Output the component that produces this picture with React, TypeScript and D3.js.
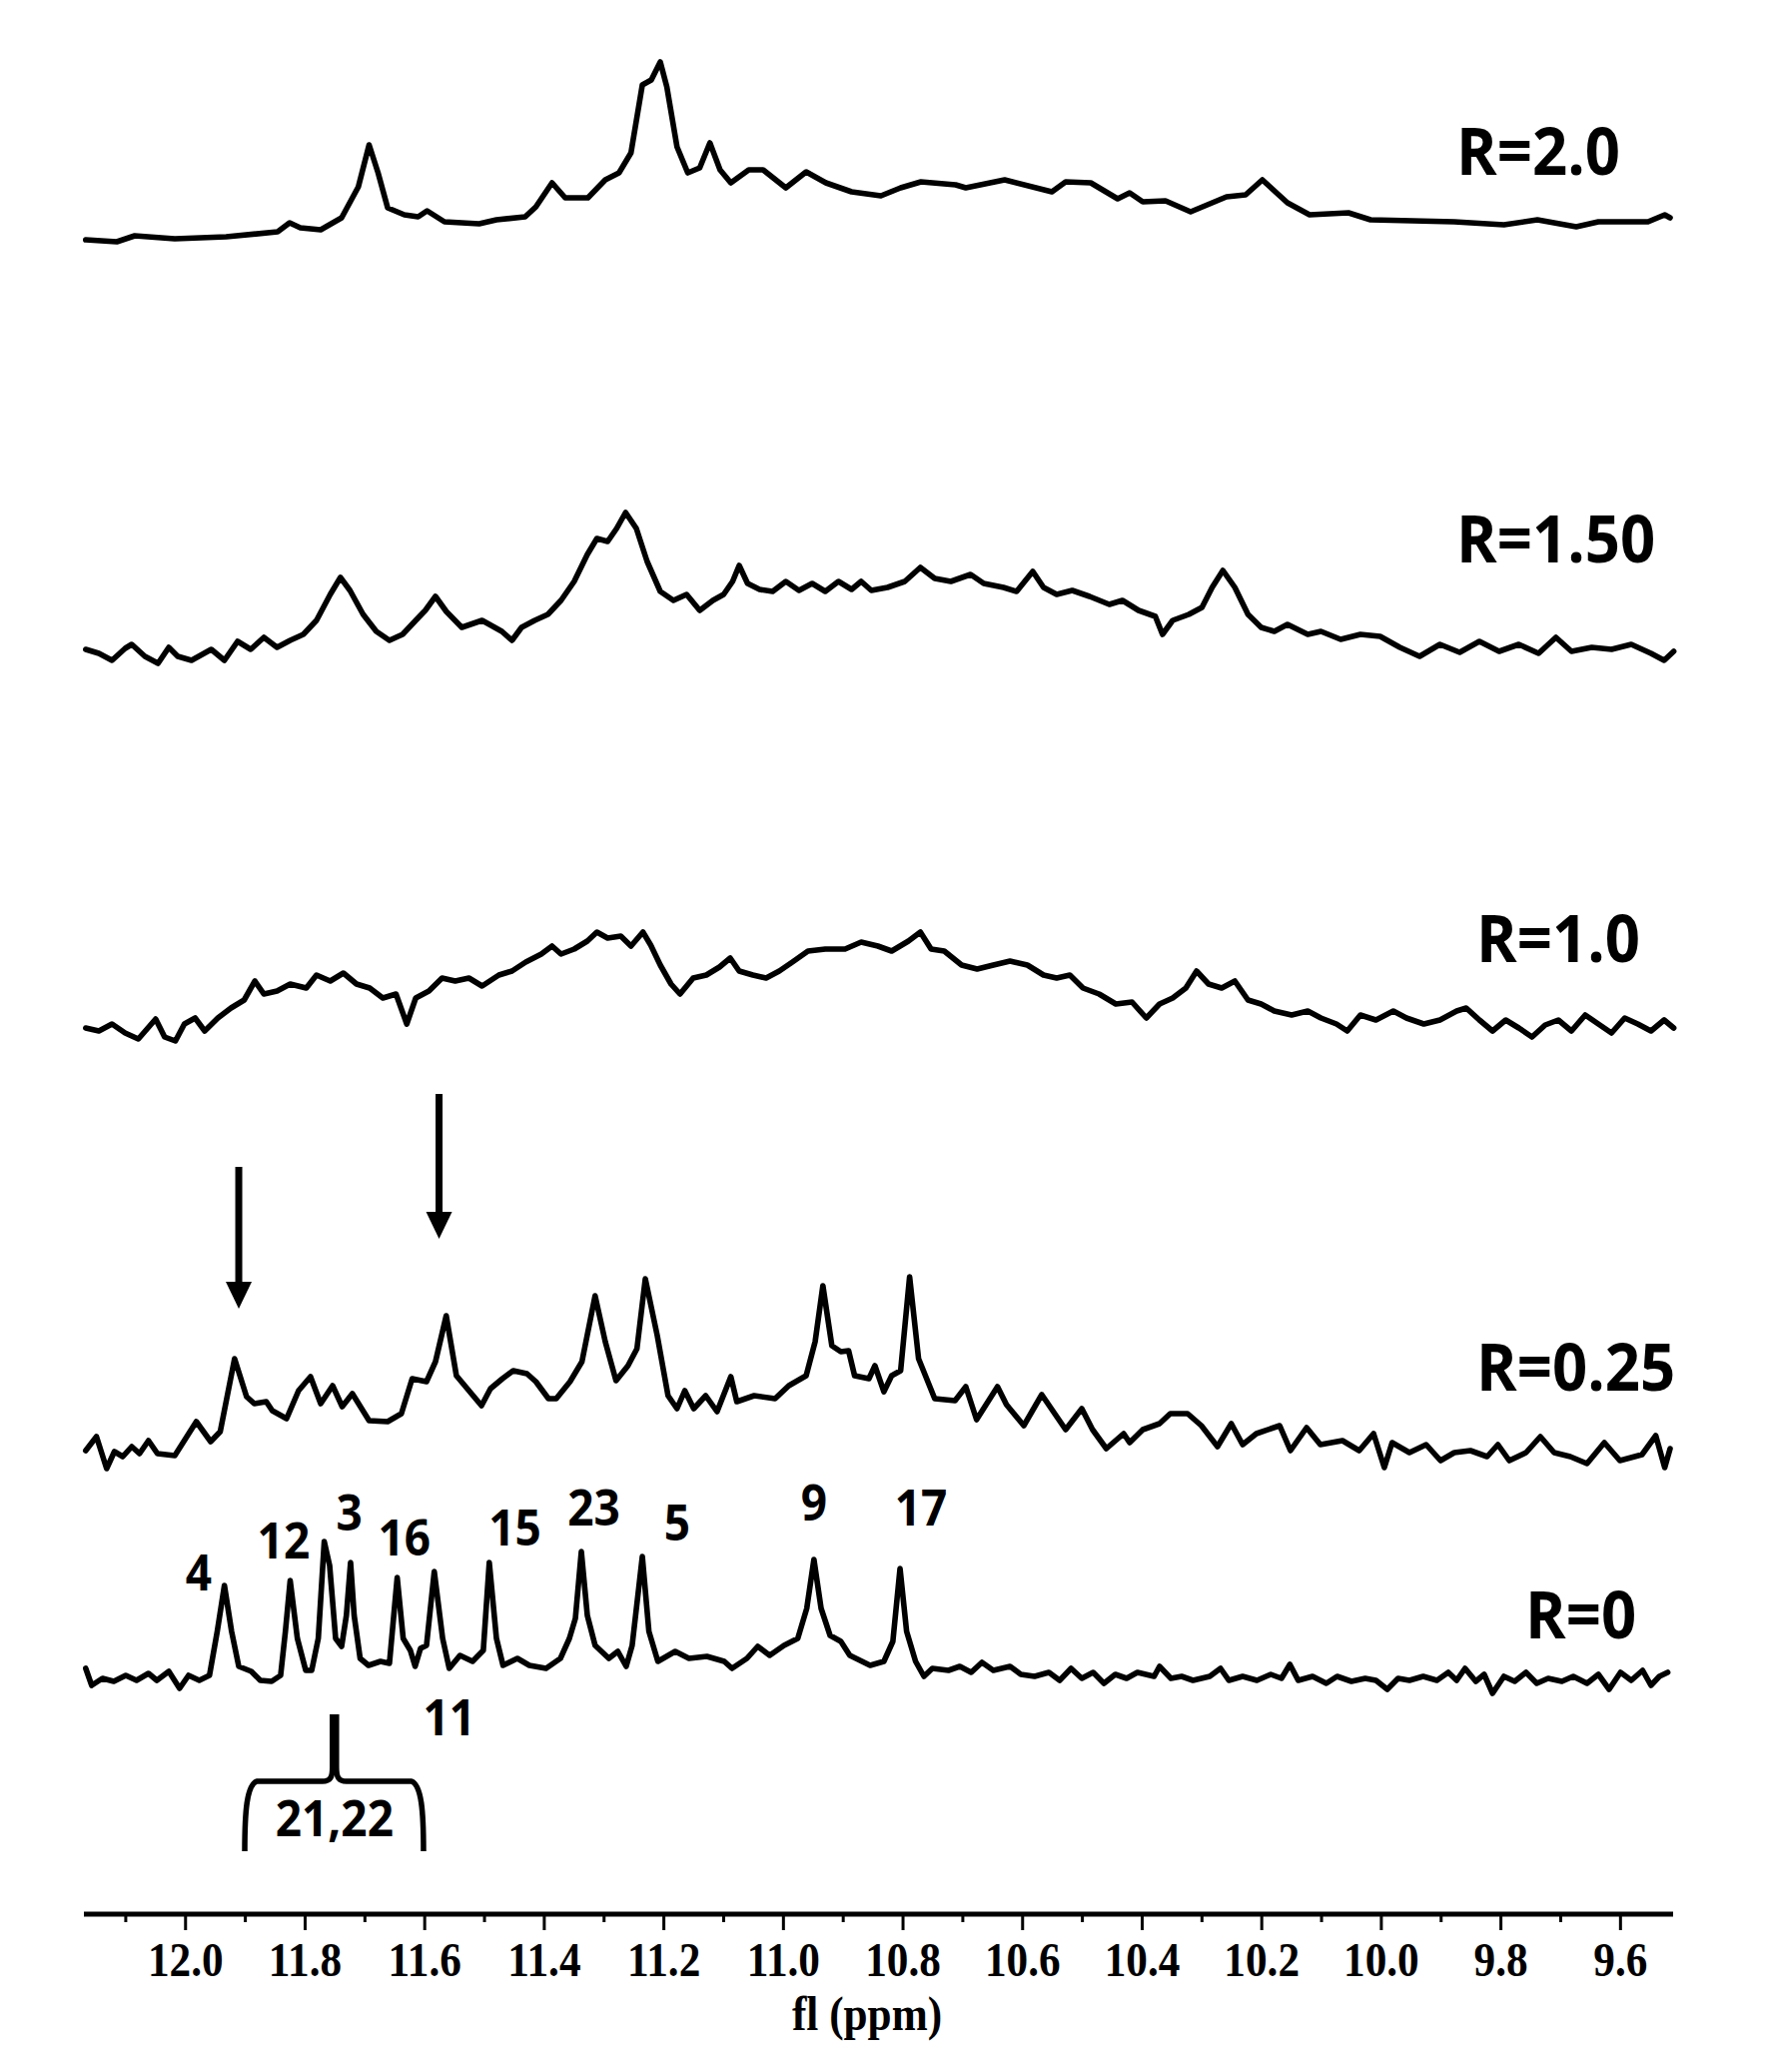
import React from 'react';
import * as d3 from 'd3';

type Pt = [number, number];

// ---------- axis ----------
const ppmDomain: [number, number] = [12.17, 9.512];
const majorTicks = [12.0, 11.8, 11.6, 11.4, 11.2, 11.0, 10.8, 10.6, 10.4, 10.2, 10.0, 9.8, 9.6];
const minorTicks = [12.1, 11.9, 11.7, 11.5, 11.3, 11.1, 10.9, 10.7, 10.5, 10.3, 10.1, 9.9, 9.7];
const tickLabels = ['12.0', '11.8', '11.6', '11.4', '11.2', '11.0', '10.8', '10.6', '10.4', '10.2', '10.0', '9.8', '9.6'];
const axisTitle = 'fl (ppm)';

// ---------- spectra: [ppm, intensity (a.u.)] ----------
const specR20: Pt[] = [[12.167,5],[12.115,3],[12.085,9],[12.018,6],[11.932,8],[11.846,13],[11.826,22],[11.808,17],[11.774,15],[11.739,27],[11.711,58],[11.693,100],[11.678,72],[11.662,37],[11.634,30],[11.611,28],[11.596,34],[11.567,23],[11.509,21],[11.480,25],[11.432,28],[11.414,38],[11.387,62],[11.365,47],[11.327,47],[11.298,65],[11.275,72],[11.255,92],[11.236,160],[11.221,165],[11.206,183],[11.195,158],[11.178,98],[11.160,72],[11.140,77],[11.123,102],[11.106,75],[11.088,62],[11.058,75],[11.034,75],[10.996,57],[10.962,73],[10.929,62],[10.886,53],[10.837,49],[10.804,57],[10.770,63],[10.712,60],[10.695,57],[10.630,65],[10.551,53],[10.528,63],[10.486,62],[10.441,46],[10.421,52],[10.399,43],[10.361,44],[10.319,33],[10.259,48],[10.227,50],[10.199,65],[10.157,42],[10.120,30],[10.055,32],[10.018,25],[9.878,23],[9.795,20],[9.739,25],[9.674,18],[9.637,23],[9.554,23],[9.526,30],[9.517,27]];

const specR150: Pt[] = [[12.167,11],[12.145,7],[12.123,0],[12.101,12],[12.090,16],[12.068,4],[12.046,-3],[12.028,13],[12.013,4],[11.990,0],[11.957,11],[11.935,0],[11.913,19],[11.891,11],[11.869,23],[11.847,13],[11.825,20],[11.803,26],[11.781,40],[11.758,66],[11.741,83],[11.725,70],[11.703,46],[11.681,29],[11.659,20],[11.637,26],[11.615,40],[11.599,50],[11.582,64],[11.564,49],[11.538,33],[11.504,40],[11.471,29],[11.454,20],[11.438,33],[11.416,40],[11.394,46],[11.372,60],[11.350,79],[11.328,106],[11.312,122],[11.294,119],[11.279,132],[11.264,148],[11.246,132],[11.228,99],[11.206,69],[11.184,60],[11.162,66],[11.140,50],[11.118,60],[11.100,66],[11.085,79],[11.074,95],[11.060,77],[11.040,71],[11.018,69],[10.996,79],[10.974,70],[10.952,77],[10.930,69],[10.908,79],[10.886,71],[10.870,79],[10.853,70],[10.826,73],[10.797,79],[10.771,93],[10.747,82],[10.720,79],[10.687,86],[10.665,77],[10.632,73],[10.610,69],[10.583,89],[10.565,73],[10.543,66],[10.517,70],[10.488,64],[10.455,56],[10.433,60],[10.406,50],[10.378,44],[10.366,26],[10.349,40],[10.322,46],[10.300,53],[10.283,73],[10.265,90],[10.245,73],[10.223,46],[10.201,33],[10.179,29],[10.157,36],[10.123,26],[10.101,29],[10.068,21],[10.035,26],[10.002,24],[9.969,13],[9.936,4],[9.902,16],[9.869,8],[9.836,19],[9.803,9],[9.770,16],[9.737,7],[9.708,23],[9.682,9],[9.648,13],[9.615,11],[9.582,16],[9.549,7],[9.527,0],[9.511,9]];

const specR10: Pt[] = [[12.167,16],[12.145,13],[12.123,20],[12.101,11],[12.079,5],[12.063,16],[12.050,25],[12.035,7],[12.017,3],[12.002,20],[11.984,26],[11.968,13],[11.946,26],[11.924,36],[11.902,44],[11.884,63],[11.869,50],[11.847,53],[11.825,60],[11.798,56],[11.781,69],[11.758,63],[11.736,71],[11.714,60],[11.692,56],[11.670,46],[11.648,50],[11.630,20],[11.615,46],[11.593,53],[11.571,66],[11.549,63],[11.526,66],[11.504,58],[11.476,69],[11.454,73],[11.431,82],[11.405,90],[11.387,98],[11.372,90],[11.350,95],[11.328,103],[11.312,112],[11.294,106],[11.272,108],[11.255,98],[11.235,112],[11.222,99],[11.206,79],[11.188,60],[11.173,50],[11.151,66],[11.129,69],[11.107,77],[11.089,86],[11.074,73],[11.051,69],[11.029,66],[11.007,73],[10.985,82],[10.959,93],[10.930,95],[10.897,95],[10.870,102],[10.842,98],[10.819,93],[10.791,103],[10.771,112],[10.753,95],[10.731,93],[10.702,79],[10.676,75],[10.649,79],[10.621,83],[10.592,79],[10.565,69],[10.543,66],[10.521,69],[10.499,56],[10.472,50],[10.444,40],[10.417,42],[10.393,26],[10.371,40],[10.349,46],[10.327,56],[10.309,73],[10.289,60],[10.267,56],[10.245,63],[10.223,44],[10.201,40],[10.179,33],[10.150,29],[10.123,33],[10.101,26],[10.075,20],[10.057,13],[10.035,29],[10.009,24],[9.980,33],[9.958,26],[9.929,20],[9.902,24],[9.874,33],[9.858,36],[9.836,24],[9.814,13],[9.792,24],[9.770,16],[9.748,7],[9.726,19],[9.704,24],[9.682,13],[9.659,29],[9.637,20],[9.615,11],[9.593,26],[9.571,20],[9.549,13],[9.527,24],[9.511,16]];

const specR025: Pt[] = [[12.167,13],[12.149,27],[12.132,-5],[12.119,12],[12.105,7],[12.090,17],[12.077,10],[12.062,23],[12.047,10],[12.018,8],[12.000,25],[11.982,42],[11.958,22],[11.942,32],[11.918,105],[11.898,67],[11.885,60],[11.865,62],[11.855,53],[11.831,45],[11.811,73],[11.791,87],[11.774,60],[11.754,78],[11.738,57],[11.721,70],[11.693,43],[11.662,42],[11.639,50],[11.621,85],[11.597,82],[11.582,102],[11.564,148],[11.547,88],[11.519,68],[11.505,58],[11.490,75],[11.470,85],[11.452,93],[11.429,90],[11.414,82],[11.393,65],[11.380,65],[11.357,82],[11.337,102],[11.315,168],[11.298,122],[11.280,83],[11.260,98],[11.245,115],[11.231,185],[11.211,128],[11.193,68],[11.178,55],[11.165,73],[11.150,55],[11.130,68],[11.111,52],[11.088,87],[11.078,62],[11.049,68],[11.014,65],[10.991,78],[10.962,88],[10.947,122],[10.934,178],[10.919,118],[10.904,112],[10.891,113],[10.881,88],[10.857,85],[10.847,98],[10.832,72],[10.819,88],[10.804,93],[10.789,187],[10.774,105],[10.747,65],[10.713,63],[10.695,77],[10.677,44],[10.642,77],[10.627,59],[10.598,38],[10.568,69],[10.528,34],[10.501,55],[10.483,34],[10.460,15],[10.431,30],[10.421,21],[10.399,34],[10.371,40],[10.353,50],[10.324,50],[10.301,38],[10.274,17],[10.251,40],[10.232,19],[10.209,30],[10.170,38],[10.152,13],[10.125,36],[10.102,19],[10.065,23],[10.037,13],[10.013,30],[9.995,-4],[9.982,21],[9.953,11],[9.925,19],[9.901,3],[9.878,11],[9.851,13],[9.823,7],[9.805,19],[9.786,3],[9.758,11],[9.734,27],[9.711,11],[9.684,7],[9.656,0],[9.627,21],[9.601,3],[9.564,9],[9.541,28],[9.526,-4],[9.517,15]];

const specR0: Pt[] = [[12.167,20],[12.157,3],[12.139,10],[12.120,7],[12.100,13],[12.082,8],[12.062,15],[12.048,8],[12.028,17],[12.010,0],[11.995,13],[11.977,8],[11.960,13],[11.947,57],[11.935,103],[11.923,57],[11.911,22],[11.890,17],[11.875,8],[11.856,7],[11.841,13],[11.833,57],[11.825,108],[11.813,50],[11.799,18],[11.789,18],[11.778,50],[11.768,147],[11.759,123],[11.749,50],[11.739,42],[11.731,73],[11.724,126],[11.718,73],[11.708,30],[11.694,23],[11.674,27],[11.659,25],[11.646,111],[11.636,50],[11.624,38],[11.616,22],[11.607,40],[11.597,43],[11.584,117],[11.570,50],[11.559,20],[11.541,33],[11.520,27],[11.502,38],[11.492,126],[11.480,50],[11.469,23],[11.445,30],[11.425,23],[11.397,20],[11.373,30],[11.358,50],[11.348,70],[11.338,137],[11.328,73],[11.315,43],[11.292,30],[11.277,37],[11.263,22],[11.253,43],[11.236,132],[11.225,57],[11.210,27],[11.181,37],[11.158,30],[11.128,32],[11.099,27],[11.086,20],[11.061,30],[11.043,42],[11.023,33],[10.999,43],[10.976,50],[10.961,80],[10.949,129],[10.937,80],[10.922,53],[10.904,47],[10.889,33],[10.855,23],[10.832,27],[10.817,47],[10.805,120],[10.794,57],[10.779,27],[10.765,12],[10.751,20],[10.724,18],[10.705,22],[10.686,16],[10.668,26],[10.649,18],[10.621,22],[10.603,14],[10.580,12],[10.556,16],[10.538,8],[10.519,20],[10.501,10],[10.482,16],[10.464,5],[10.445,14],[10.426,10],[10.408,16],[10.380,12],[10.371,22],[10.352,10],[10.334,12],[10.315,8],[10.287,12],[10.269,20],[10.255,8],[10.232,12],[10.208,8],[10.185,14],[10.167,10],[10.153,24],[10.139,8],[10.115,12],[10.092,5],[10.074,12],[10.050,7],[10.027,10],[10.009,8],[9.990,-1],[9.972,10],[9.953,8],[9.930,12],[9.907,8],[9.888,16],[9.874,8],[9.860,20],[9.842,7],[9.828,14],[9.814,-5],[9.795,12],[9.777,7],[9.758,16],[9.740,5],[9.721,10],[9.698,7],[9.679,12],[9.656,5],[9.637,14],[9.619,-1],[9.600,16],[9.582,8],[9.563,18],[9.549,3],[9.535,12],[9.521,16]];

const seriesNames = ['R=2.0', 'R=1.50', 'R=1.0', 'R=0.25', 'R=0'];
const seriesData = [specR20, specR150, specR10, specR025, specR0];

// peak assignments on R=0 spectrum: [label, ppm, intensity]
const peakLabels: [string, number, number][] = [
  ['4', 11.978, 98], ['12', 11.836, 130], ['3', 11.726, 158], ['16', 11.634, 133],
  ['15', 11.449, 143], ['23', 11.317, 163], ['5', 11.178, 148], ['9', 10.949, 168],
  ['17', 10.770, 163], ['11', 11.559, -47],
];
const groupLabel = '21,22';
const groupRange: [number, number, number] = [11.901, 11.751, 11.602]; // left, centre, right (ppm)

// arrows on R=0.25 spectrum: [ppm, tail intensity, tip intensity]
const arrows: [number, number, number][] = [[11.911, 297, 155], [11.576, 370, 225]];

// ---------- layout (pixels) ----------
const W = 1772, H = 2074;
const X0 = 84, X1 = 1675;
const AXIS_Y = 1916;
const baselines = [245, 661, 1045, 1465, 1690];
const seriesLabelPos: [number, number][] = [[1458, 175], [1458, 563], [1478, 963], [1478, 1392], [1527, 1640]];

export default function App() {
  const x = d3.scaleLinear().domain(ppmDomain).range([X0, X1]);
  const yScales = baselines.map((b) => d3.scaleLinear().domain([0, 100]).range([b, b - 100]));
  const y0 = yScales[4];
  const y25 = yScales[3];

  const paths = seriesData.map((data, i) =>
    d3.line<Pt>().x((d) => x(d[0])).y((d) => yScales[i](d[1])).curve(d3.curveLinear)(data) || ''
  );

  const [gl, gc, gr] = groupRange;
  const bxL = x(gl), bxC = x(gc), bxR = x(gr);
  const bTop = y0(-26), bArm = y0(-93), bEnd = y0(-163);
  const bracePath = [
    `M${bxL},${bEnd}`,
    `C${bxL},${bEnd - 40} ${bxL + 2},${bArm + 4} ${bxL + 12},${bArm}`,
    `L${bxC - 12},${bArm}`,
    `C${bxC - 4},${bArm} ${bxC - 2},${bArm - 4} ${bxC - 2},${bArm - 14}`,
    `L${bxC - 2},${bTop}`,
    `M${bxC + 2},${bTop}`,
    `L${bxC + 2},${bArm - 14}`,
    `C${bxC + 2},${bArm - 4} ${bxC + 4},${bArm} ${bxC + 12},${bArm}`,
    `L${bxR - 12},${bArm}`,
    `C${bxR - 2},${bArm + 4} ${bxR},${bEnd - 40} ${bxR},${bEnd}`,
  ].join(' ');

  const sans = "'Open Sans', 'Noto Sans', sans-serif";
  const serif = "'Liberation Serif', 'DejaVu Serif', serif";

  return (
    <svg
      width={W}
      height={H}
      viewBox={`0 0 ${W} ${H}`}
      style={{ position: 'absolute', left: 0, top: 0, background: '#fff' }}
    >
      <rect x={0} y={0} width={W} height={H} fill="#fff" />
      {paths.map((p, i) => (
        <path key={i} d={p} fill="none" stroke="#000" strokeWidth={5.6} strokeLinejoin="round" strokeLinecap="round" />
      ))}

      {seriesNames.map((n, i) => (
        <text
          key={n}
          transform={`translate(${seriesLabelPos[i][0]},${seriesLabelPos[i][1]}) scale(0.92,1)`}
          fontFamily={sans}
          fontWeight={700}
          fontSize={67}
          fill="#000"
        >
          {n}
        </text>
      ))}

      {peakLabels.map(([t, p, v]) => (
        <text
          key={t}
          transform={`translate(${x(p)},${y0(v)}) scale(0.92,1)`}
          textAnchor="middle"
          fontFamily={sans}
          fontWeight={700}
          fontSize={50}
          fill="#000"
        >
          {t}
        </text>
      ))}
      <path d={bracePath} fill="none" stroke="#000" strokeWidth={5.5} strokeLinejoin="round" />
      <text
        transform={`translate(${bxC},${y0(-148)}) scale(0.92,1)`}
        textAnchor="middle"
        fontFamily={sans}
        fontWeight={700}
        fontSize={50}
        fill="#000"
      >
        {groupLabel}
      </text>

      {arrows.map(([p, tail, tip], i) => {
        const ax = x(p);
        const yTail = y25(tail), yTip = y25(tip);
        return (
          <g key={i}>
            <line x1={ax} x2={ax} y1={yTail} y2={yTip - 24} stroke="#000" strokeWidth={7} />
            <polygon points={`${ax - 13},${yTip - 27} ${ax + 13},${yTip - 27} ${ax},${yTip}`} fill="#000" />
          </g>
        );
      })}

      {/* axis */}
      <line x1={X0} x2={X1} y1={AXIS_Y} y2={AXIS_Y} stroke="#000" strokeWidth={5} />
      {majorTicks.map((t) => (
        <line key={'M' + t} x1={x(t)} x2={x(t)} y1={AXIS_Y} y2={AXIS_Y + 16} stroke="#000" strokeWidth={3} />
      ))}
      {minorTicks.map((t) => (
        <line key={'m' + t} x1={x(t)} x2={x(t)} y1={AXIS_Y} y2={AXIS_Y + 8} stroke="#000" strokeWidth={3} />
      ))}
      {majorTicks.map((t, i) => (
        <text
          key={'L' + t}
          transform={`translate(${x(t)},1978) scale(0.94,1.06)`}
          textAnchor="middle"
          fontFamily={serif}
          fontWeight={700}
          fontSize={46}
          fill="#000"
        >
          {tickLabels[i]}
        </text>
      ))}
      <text
        transform={`translate(868,2032) scale(0.94,1.06)`}
        textAnchor="middle"
        fontFamily={serif}
        fontWeight={700}
        fontSize={46}
        fill="#000"
      >
        {axisTitle}
      </text>
    </svg>
  );
}
